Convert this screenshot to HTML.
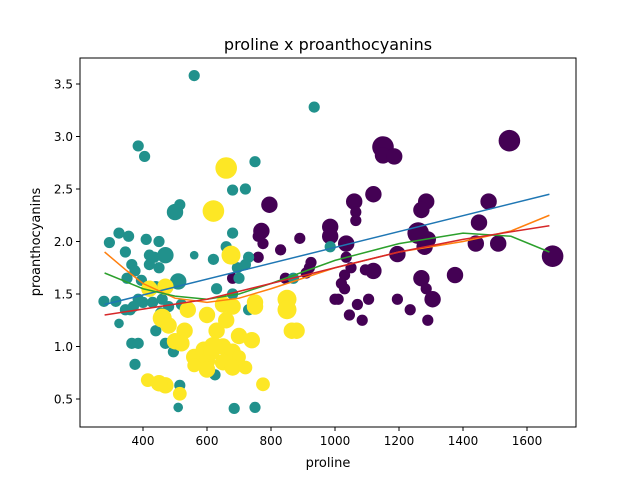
<!DOCTYPE html>
<html><head><meta charset="utf-8"><style>
html,body{margin:0;padding:0;background:#fff;}
svg text{font-family:"DejaVu Sans","Liberation Sans",sans-serif;}
</style></head><body>
<svg id="chart" width="640" height="480" xmlns="http://www.w3.org/2000/svg">
<rect x="0" y="0" width="640" height="480" fill="#fff"/>
<text x="328" y="50" font-size="16" text-anchor="middle">proline x proanthocyanins</text>
<text x="328" y="467" font-size="13" text-anchor="middle">proline</text>
<text x="0" y="0" font-size="13" text-anchor="middle" transform="translate(40,242) rotate(-90)">proanthocyanins</text>
<g id="marks"></g>
<g id="axes"></g>
</svg>
<script>
const xTicks=[400,600,800,1000,1200,1400,1600];
const yTicks=[0.5,1.0,1.5,2.0,2.5,3.0,3.5];
const yTickLabels=["0.5","1.0","1.5","2.0","2.5","3.0","3.5"];
const class0=[[1150,2.9,3],[1150,2.82,2],[1185,2.81,2],[1545,2.96,3],[1120,2.45,2],[1060,2.38,2],[1065,2.28,1],[1065,2.2,1],[985,2.14,2],[1285,2.38,2],[1270,2.3,2],[795,2.35,2],[770,2.1,2],[760,2.05,1],[775,1.98,1],[890,2.03,1],[985,2.05,2],[1035,1.98,2],[1035,1.85,1],[1050,1.75,1],[1030,1.68,1],[1095,1.73,1],[1120,1.72,2],[1195,1.88,2],[1260,2.08,3],[1290,2.02,2],[1280,1.95,2],[1450,2.18,2],[1480,2.38,2],[1510,1.98,2],[1440,1.98,2],[1375,1.68,2],[1270,1.65,2],[1285,1.55,1],[1305,1.45,2],[1290,1.25,1],[1235,1.35,1],[1195,1.45,1],[1105,1.45,1],[1070,1.4,1],[1045,1.3,1],[1085,1.25,1],[1010,1.45,1],[1030,1.55,1],[1020,1.6,1],[925,1.8,1],[910,1.7,1],[845,1.65,1],[920,1.75,1],[830,1.92,1],[760,1.85,1],[680,1.65,1],[1000,1.45,1],[1680,1.86,3]];
const class1=[[560,3.58,1],[935,3.28,1],[385,2.91,1],[405,2.81,1],[750,2.76,1],[680,2.49,1],[720,2.5,1],[515,2.35,1],[500,2.28,2],[325,2.08,1],[295,1.99,1],[355,2.05,1],[410,2.02,1],[450,2.0,1],[345,1.9,1],[365,1.78,1],[375,1.72,1],[420,1.87,1],[435,1.85,1],[470,1.87,2],[420,1.78,1],[450,1.75,1],[560,1.87,0.5],[620,1.83,1],[660,1.95,1],[680,2.08,1],[730,1.85,1],[720,1.78,1],[695,1.75,1],[350,1.65,1],[395,1.63,1],[420,1.53,1],[440,1.57,1],[510,1.62,2],[278,1.43,1],[315,1.43,1],[360,1.35,1],[385,1.45,1],[400,1.42,1],[430,1.42,1],[460,1.45,1],[455,1.32,1],[480,1.38,1],[520,1.4,1],[345,1.35,1],[325,1.22,0.7],[370,1.38,1],[440,1.15,1],[365,1.03,1],[385,1.03,1],[470,1.03,1],[495,0.95,1],[375,0.83,1],[450,0.63,1],[515,0.63,1],[630,1.55,1],[680,1.5,1],[730,1.35,1],[870,1.65,1],[985,1.95,1],[510,0.42,0.7],[625,0.73,1],[685,0.41,1],[750,0.42,1],[700,1.65,1]];
const class2=[[660,2.7,3],[620,2.29,3],[675,1.87,2.5],[420,1.55,2],[470,1.57,2],[460,1.27,2.5],[540,1.35,2],[600,1.3,2],[660,1.25,2],[650,1.4,2],[680,1.38,2],[750,1.42,2],[750,1.38,2],[850,1.45,2.5],[850,1.35,2.5],[865,1.15,2],[880,1.15,2],[480,1.2,2],[530,1.15,2],[500,1.05,2],[520,1.03,2],[560,0.9,2],[590,0.97,2],[600,0.86,2],[615,0.95,2],[620,1.0,2.5],[650,1.0,2],[680,0.95,2],[700,0.9,1.5],[740,1.06,2],[650,0.85,2],[600,0.78,2],[560,0.82,1.5],[470,0.63,2],[415,0.68,1.5],[450,0.65,2],[515,0.55,1.5],[680,0.8,2],[720,0.8,1.5],[775,0.64,1.5],[700,1.1,2],[630,1.15,2]];
const lineBlue=[[280,1.4],[1670,2.45]];
const lineOrange=[[280,1.9],[350,1.72],[400,1.6],[500,1.46],[600,1.42],[700,1.46],[800,1.55],[1000,1.75],[1200,1.9],[1400,2.0],[1550,2.1],[1670,2.25]];
const lineGreen=[[280,1.7],[400,1.55],[500,1.48],[600,1.45],[700,1.5],[800,1.6],[1000,1.82],[1200,1.98],[1400,2.08],[1550,2.05],[1670,1.9]];
const lineRed=[[280,1.3],[600,1.45],[800,1.6],[1000,1.75],[1200,1.9],[1400,2.02],[1670,2.15]];

const L=80,R=576,T=58,B=427;
function X(v){return 143+(v-400)*0.32;}
function Y(v){return 399-(v-0.5)*105;}
const NS="http://www.w3.org/2000/svg";
const marks=document.getElementById('marks'),axes=document.getElementById('axes');
function mk(tag,at,parent){const e=document.createElementNS(NS,tag);for(const k in at)e.setAttribute(k,at[k]);parent.appendChild(e);return e;}
const clip=mk('clipPath',{id:'cp'},marks);mk('rect',{x:L,y:T,width:R-L,height:B-T},clip);
const classes=[[class0,'#440154','class-0'],[class1,'#21918c','class-1'],[class2,'#fde725','class-2']];
classes.forEach(([arr,col,nm])=>{arr.forEach(p=>{
 const c=mk('circle',{cx:X(p[0]),cy:Y(p[1]),r:3+p[2]*2.6,fill:col},marks);
 
 
});});
[[lineBlue,'#1f77b4','trend-blue'],[lineOrange,'#ff7f0e','trend-orange'],[lineGreen,'#2ca02c','trend-green'],[lineRed,'#d62728','trend-red']].forEach(([arr,col,nm])=>{
 const pl=mk('polyline',{points:arr.map(p=>X(p[0])+','+Y(p[1])).join(' '),fill:'none',stroke:col,'stroke-width':1.5,'clip-path':'url(#cp)'},marks);
 
 
});
const fr=mk('rect',{x:L,y:T,width:R-L,height:B-T,fill:'none',stroke:'#000','stroke-width':1},axes);


xTicks.forEach(v=>{
 mk('line',{x1:X(v),x2:X(v),y1:B,y2:B+4,stroke:'#000'},axes);
 const t=mk('text',{x:X(v),y:B+18,'font-size':12,'text-anchor':'middle'},axes);t.textContent=v;
 
 
});
yTicks.forEach((v,i)=>{
 mk('line',{x1:L-4,x2:L,y1:Y(v),y2:Y(v),stroke:'#000'},axes);
 const t=mk('text',{x:L-7,y:Y(v)+4.5,'font-size':12,'text-anchor':'end'},axes);t.textContent=yTickLabels[i];
 
 
});
</script>
</body></html>
